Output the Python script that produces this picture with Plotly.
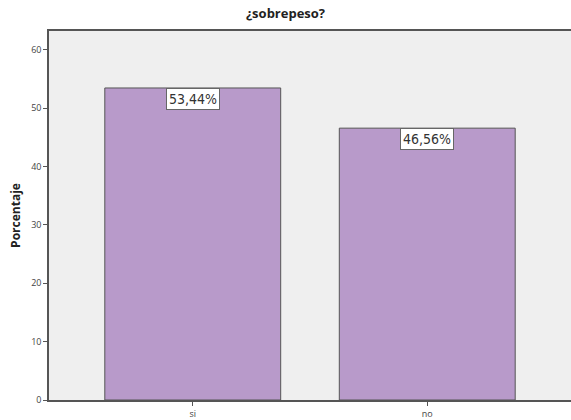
import plotly.graph_objects as go

categories = ["si", "no"]
values = [53.44, 46.56]
labels = ["53,44%", "46,56%"]
y_ticks = [0, 10, 20, 30, 40, 50, 60]

fig = go.Figure()
fig.add_trace(go.Bar(
    x=categories, y=values, width=0.75,
    marker=dict(color="#b89aca", line=dict(color="#555555", width=1)),
    showlegend=False, hoverinfo="skip"))

for c, v, t in zip(categories, values, labels):
    fig.add_annotation(x=c, y=v, text=t, showarrow=False, yanchor="top", yshift=0,
                       bgcolor="white", bordercolor="#666666", borderwidth=1, borderpad=2,
                       font=dict(family="DejaVu Sans Condensed, DejaVu Sans", size=14, color="#333333"))

fig.update_layout(
    width=571, height=420,
    margin=dict(l=49, r=0, t=31, b=16),
    paper_bgcolor="white", plot_bgcolor="#efefef",
    title=dict(text="<b>¿sobrepeso?</b>", x=0.5, xanchor="center", y=0.968, yanchor="middle",
               font=dict(family="Open Sans", size=13, color="#222222")),
    font=dict(family="Open Sans", color="#444444"),
)
fig.update_xaxes(range=[-0.613, 1.613], showgrid=False, showline=True, linecolor="#555555",
                 linewidth=1.5, mirror=True, ticks="outside", ticklen=4, tickcolor="#555555",
                 tickfont=dict(size=9, color="#444444"))
fig.update_yaxes(range=[0, 63.2], tickvals=y_ticks, showgrid=False, zeroline=False, showline=True,
                 linecolor="#555555", linewidth=1.5, mirror=False, ticks="outside", ticklen=4,
                 tickcolor="#555555", tickfont=dict(size=9, color="#444444"),
                 title=dict(text="<b>Porcentaje</b>", standoff=8,
                            font=dict(family="Open Sans", size=12, color="#222222")))

fig.write_html("out.html")
